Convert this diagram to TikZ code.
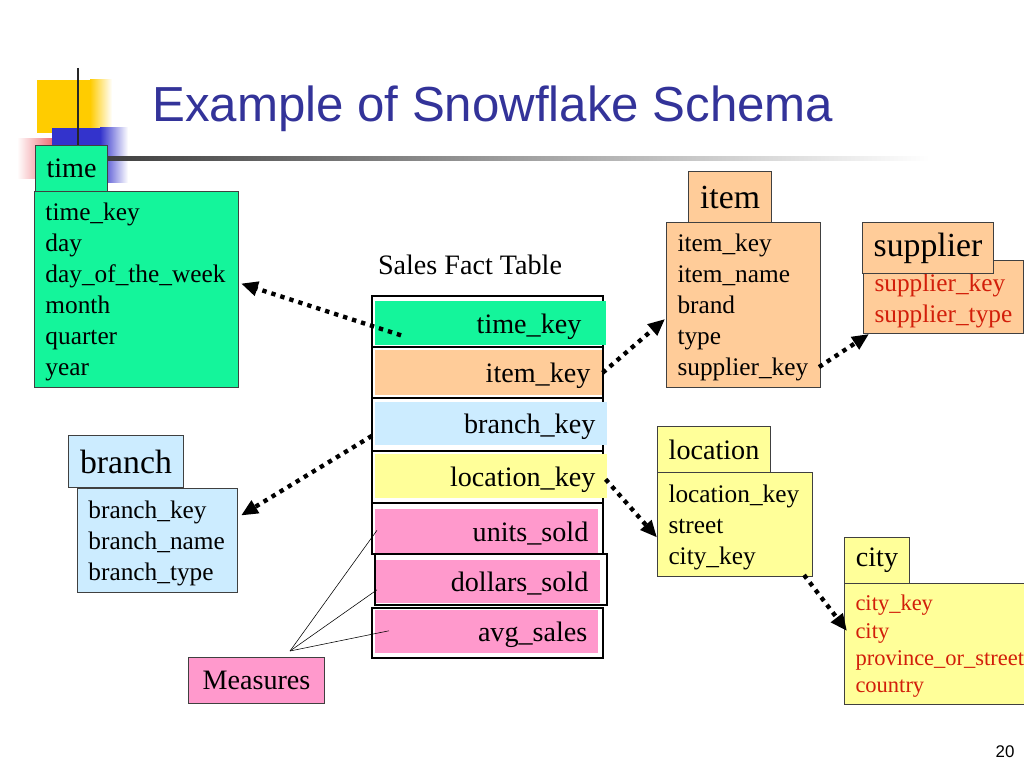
\documentclass[tikz,border=0pt]{standalone}
\usepackage{fontspec}
\setmainfont{Liberation Serif}
\newfontfamily\titlefont{Liberation Sans}
\usepackage{tikz}
\usetikzlibrary{calc, positioning, arrows.meta}

\definecolor{titleblue}{RGB}{51,51,153}
\definecolor{timegreen}{RGB}{20,245,155}
\definecolor{itempeach}{RGB}{255,204,153}
\definecolor{branchblue}{RGB}{204,236,255}
\definecolor{locyellow}{RGB}{255,255,153}
\definecolor{measpink}{RGB}{255,153,204}
\definecolor{keyred}{RGB}{210,30,10}
\definecolor{decoyellow}{RGB}{255,204,0}
\definecolor{decoblue}{RGB}{51,51,204}
\definecolor{decored}{RGB}{235,80,90}

\tikzset{
  tabbox/.style={draw=black!75, line width=0.7pt, anchor=north west},
  tabhead/.style={tabbox, font=\fontsize{20}{24}\selectfont},
  tabheadbig/.style={tabbox, font=\fontsize{24}{28}\selectfont},
  tabbody/.style={tabbox, align=left, inner xsep=0.275cm, font=\fontsize{18}{22}\selectfont},
  factrow/.style={anchor=north west, align=right, inner xsep=0.3cm, text depth=0pt, font=\fontsize{20}{24}\selectfont},
  factframe/.style={draw=black, line width=1.2pt},
  fklink/.style={line width=3.1pt, dash pattern=on 3.1pt off 3.6pt, -{Triangle[length=12pt,width=10pt]}},
}

\begin{document}
\begin{tikzpicture}[x=0.025cm, y=-0.025cm]
        \useasboundingbox (0,0) rectangle (1024,768);
        % slide decoration
        \fill[decoyellow] (37,80) rectangle (90,133);
        \shade[left color=decoyellow, right color=white] (90,80) rectangle (112,133);
        \shade[left color=white, right color=decored] (17,139) rectangle (60,178);
        \fill[decoblue] (52,128) rectangle (100,182);
        \shade[left color=decoblue, right color=white] (100,128) rectangle (128,182);
        \draw[line width=1.6pt, black!85] (78,68) -- (78,145);
        \shade[left color=black!75, right color=white] (107,157) rectangle (930,161);
        \node[anchor=base west, inner sep=0, text=titleblue, font=\titlefont\fontsize{35}{40}\selectfont] (title) at (152,122) {Example of Snowflake Schema};

        % time
        \node[tabhead, fill=timegreen, minimum width=1.8cm, minimum height=1.15cm] (timeh) at (35,145) {time};
        \node[tabbody, fill=timegreen, text width=4.55cm, minimum height=4.9cm, text depth=110pt] (time) at (34,191)
            {time\_key\\day\\day\_of\_the\_week\\month\\quarter\\year};

        % fact table
        \node[font=\fontsize{20}{24}\selectfont] (facttitle) at (470,265) {Sales Fact Table};
        \draw[factframe] (372,296) rectangle (603,347);
        \draw[factframe] (372,347) rectangle (603,398);
        \draw[factframe] (372,398) rectangle (603,451);
        \draw[factframe] (372,451) rectangle (603,503);
        \draw[factframe] (372,503) rectangle (603,554);
        \draw[factframe] (375,554) rectangle (607,605);
        \draw[factframe] (372,608) rectangle (603,658);
        \node[factrow, fill=timegreen, inner xsep=0.625cm, text width=4.525cm, minimum height=1.1cm] (ftime) at (375,301) {time\_key};
        \node[factrow, fill=itempeach, text width=5.075cm, minimum height=1.125cm] (fitem) at (375,350) {item\_key};
        \node[factrow, fill=branchblue, text width=5.2cm, minimum height=1.075cm] (fbranch) at (375,402) {branch\_key};
        \node[factrow, fill=locyellow, text width=5.2cm, minimum height=1.1cm] (floc) at (375,454) {location\_key};
        \node[factrow, fill=measpink, inner xsep=0.25cm, text width=5.075cm, minimum height=1.1cm] (funits) at (375,509) {units\_sold};
        \node[factrow, fill=measpink, text width=5.0cm, minimum height=1.075cm] (fdollars) at (376,560) {dollars\_sold};
        \node[factrow, fill=measpink, inner xsep=0.275cm, text width=5.025cm, minimum height=1.075cm] (favg) at (375,610) {avg\_sales};

        % item and supplier
        \node[tabheadbig, fill=itempeach, minimum width=2.075cm, minimum height=1.275cm] (itemh) at (688,171) {item};
        \node[tabbody, fill=itempeach, text width=3.3cm, minimum height=4.125cm, text depth=88pt] (item) at (666,222)
            {item\_key\\item\_name\\brand\\type\\supplier\_key};
        \node[tabbody, fill=itempeach, text=keyred, text width=3.45cm, minimum height=1.825cm, text depth=20pt] (supp) at (863,260)
            {supplier\_key\\supplier\_type};
        \node[tabheadbig, fill=itempeach, minimum width=3.275cm, minimum height=1.275cm] (supph) at (862,222) {supplier};

        % branch
        \node[tabheadbig, fill=branchblue, minimum width=2.875cm, minimum height=1.3cm] (branchh) at (68,435) {branch};
        \node[tabbody, fill=branchblue, text width=3.45cm, minimum height=2.6cm, text depth=44pt] (branch) at (77,488)
            {branch\_key\\branch\_name\\branch\_type};

        % location and city
        \node[tabhead, fill=locyellow, minimum width=2.825cm, minimum height=1.15cm] (loch) at (657,426) {location};
        \node[tabbody, fill=locyellow, text width=3.325cm, minimum height=2.6cm, text depth=44pt] (loc) at (657,472)
            {location\_key\\street\\city\_key};
        \node[tabhead, fill=locyellow, minimum width=1.625cm, minimum height=1.15cm] (cityh) at (844,537) {city};
        \node[tabbody, fill=locyellow, text=keyred, text width=4.2cm, minimum height=3.025cm, text depth=58.5pt, font=\fontsize{16}{19.5}\selectfont] (city) at (844,583)
            {city\_key\\city\\province\_or\_street\\country};

        % measures
        \node[tabhead, fill=measpink, minimum width=3.4cm, minimum height=1.15cm] (meas) at (188,657) {Measures};
        \coordinate (mtip) at (290,651);
        \draw[thin] (mtip) -- ($(funits.west)+(2,-1)$);
        \draw[thin] (mtip) -- ($(fdollars.west)+(1,8)$);
        \draw[thin] (mtip) -- ($(favg.west)+(14,-1)$);

        % foreign keys
        \draw[fklink] ($(ftime.west)+(26,12)$) -- ($(time.east)+(2,-6)$);
        \draw[fklink] (fitem.east) -- ($(item.west)+(-1,14)$);
        \draw[fklink] ($(item.south east)+(-2,-21)$) -- ($(supp.south west)+(6,0)$);
        \draw[fklink] ($(fbranch.west)+(-3,12)$) -- ($(branch.east)+(3,-25)$);
        \draw[fklink] ($(floc.east)+(-2,3)$) -- ($(loc.west)+(0,13)$);
        \draw[fklink] ($(loc.south east)+(-9,-2)$) -- ($(city.west)+(3,-13)$);

        \node[font=\titlefont\fontsize{12}{14}\selectfont] (pageno) at (1005,752) {20};
    \end{tikzpicture}
\end{document}
